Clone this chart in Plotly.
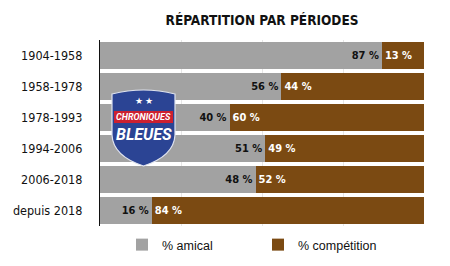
import plotly.graph_objects as go

periods = ["1904-1958", "1958-1978", "1978-1993", "1994-2006", "2006-2018", "depuis 2018"]
amical = [87, 56, 40, 51, 48, 16]
competition = [13, 44, 60, 49, 52, 84]

GREY = "#a2a2a2"
BROWN = "#7b4a12"
COND = "DejaVu Sans Condensed, Liberation Sans Narrow, Roboto, sans-serif"

L, R, T, B = 100, 26, 40, 40
W, H = 450, 266
PW, PH = W - L - R, H - T - B


def px(x, y):
    return (x - L) / PW, (H - B - y) / PH


def P(x, y):
    a, b = px(x, y)
    return f"{a:.4f},{b:.4f}"


fig = go.Figure()
fig.add_trace(go.Bar(
    y=periods, x=amical, orientation="h", name="% amical",
    marker=dict(color=GREY, line=dict(width=0)),
    text=[f"{v} %" for v in amical], textposition="inside", insidetextanchor="end",
    textfont=dict(family=COND, size=11, color="#111111", weight="bold"),
    hoverinfo="skip",
))
fig.add_trace(go.Bar(
    y=periods, x=competition, orientation="h", name="% compétition",
    marker=dict(color=BROWN, line=dict(width=0)),
    text=[f"{v} %" for v in competition], textposition="inside", insidetextanchor="start",
    textfont=dict(family=COND, size=11, color="white", weight="bold"),
    hoverinfo="skip",
))

# Shield logo (decoration)
shield = (f"M{P(112,94)} Q{P(143.5,86)} {P(175,94)} L{P(175,135)} "
          f"Q{P(174,156)} {P(143.5,166)} Q{P(113,156)} {P(112,135)} Z")
fig.add_shape(type="path", path=shield, xref="paper", yref="paper",
              fillcolor="#2b4494", line=dict(color="#dfe3ef", width=1.2), layer="above")
bx0, by0 = px(114, 111)
bx1, by1 = px(173, 123)
fig.add_shape(type="rect", x0=bx0, x1=bx1, y0=by1, y1=by0, xref="paper", yref="paper",
              fillcolor="#cc2030", line=dict(width=0), layer="above")
LOGO = "Roboto, Liberation Sans, sans-serif"
for (x, y, txt, sz) in [(143.5, 101, "★ ★", 9),
                         (143.5, 117, "<i><b>CHRONIQUES</b></i>", 9),
                         (143.5, 134, "<i><b>BLEUES</b></i>", 16)]:
    ax, ay = px(x, y)
    fig.add_annotation(x=ax, y=ay, xref="paper", yref="paper", text=txt, showarrow=False,
                       xanchor="center", yanchor="middle",
                       font=dict(family=LOGO, size=sz, color="white"))

lx, ly = px(122, 230)
fig.update_layout(
    width=W, height=H,
    margin=dict(l=L, r=R, t=T, b=B, autoexpand=False),
    barmode="stack", bargap=0.16,
    plot_bgcolor="white", paper_bgcolor="white",
    title=dict(text="<b>RÉPARTITION PAR PÉRIODES</b>", x=(L + PW / 2) / W, xanchor="center",
               y=1 - 20 / H, yanchor="middle",
               font=dict(family=COND, size=13.5, color="#111111")),
    xaxis=dict(range=[0, 100], showticklabels=False, showgrid=True, gridcolor="#e6e6e6",
               gridwidth=1, zeroline=False, tickvals=[25, 50, 75, 100], fixedrange=True),
    yaxis=dict(autorange="reversed", showline=True, linecolor="#111111", linewidth=1.2,
               ticks="", ticklabelstandoff=14,
               tickfont=dict(family=COND, size=12.5, color="#111111"), fixedrange=True),
    legend=dict(orientation="h", x=lx, xanchor="left", y=ly, yanchor="top",
                font=dict(family="Liberation Sans, Arial, sans-serif", size=12.5, color="#111111"),
                entrywidth=91, traceorder="normal"),
    showlegend=True,
    uniformtext=dict(mode="show", minsize=8),
)
fig.write_html("out.html")
